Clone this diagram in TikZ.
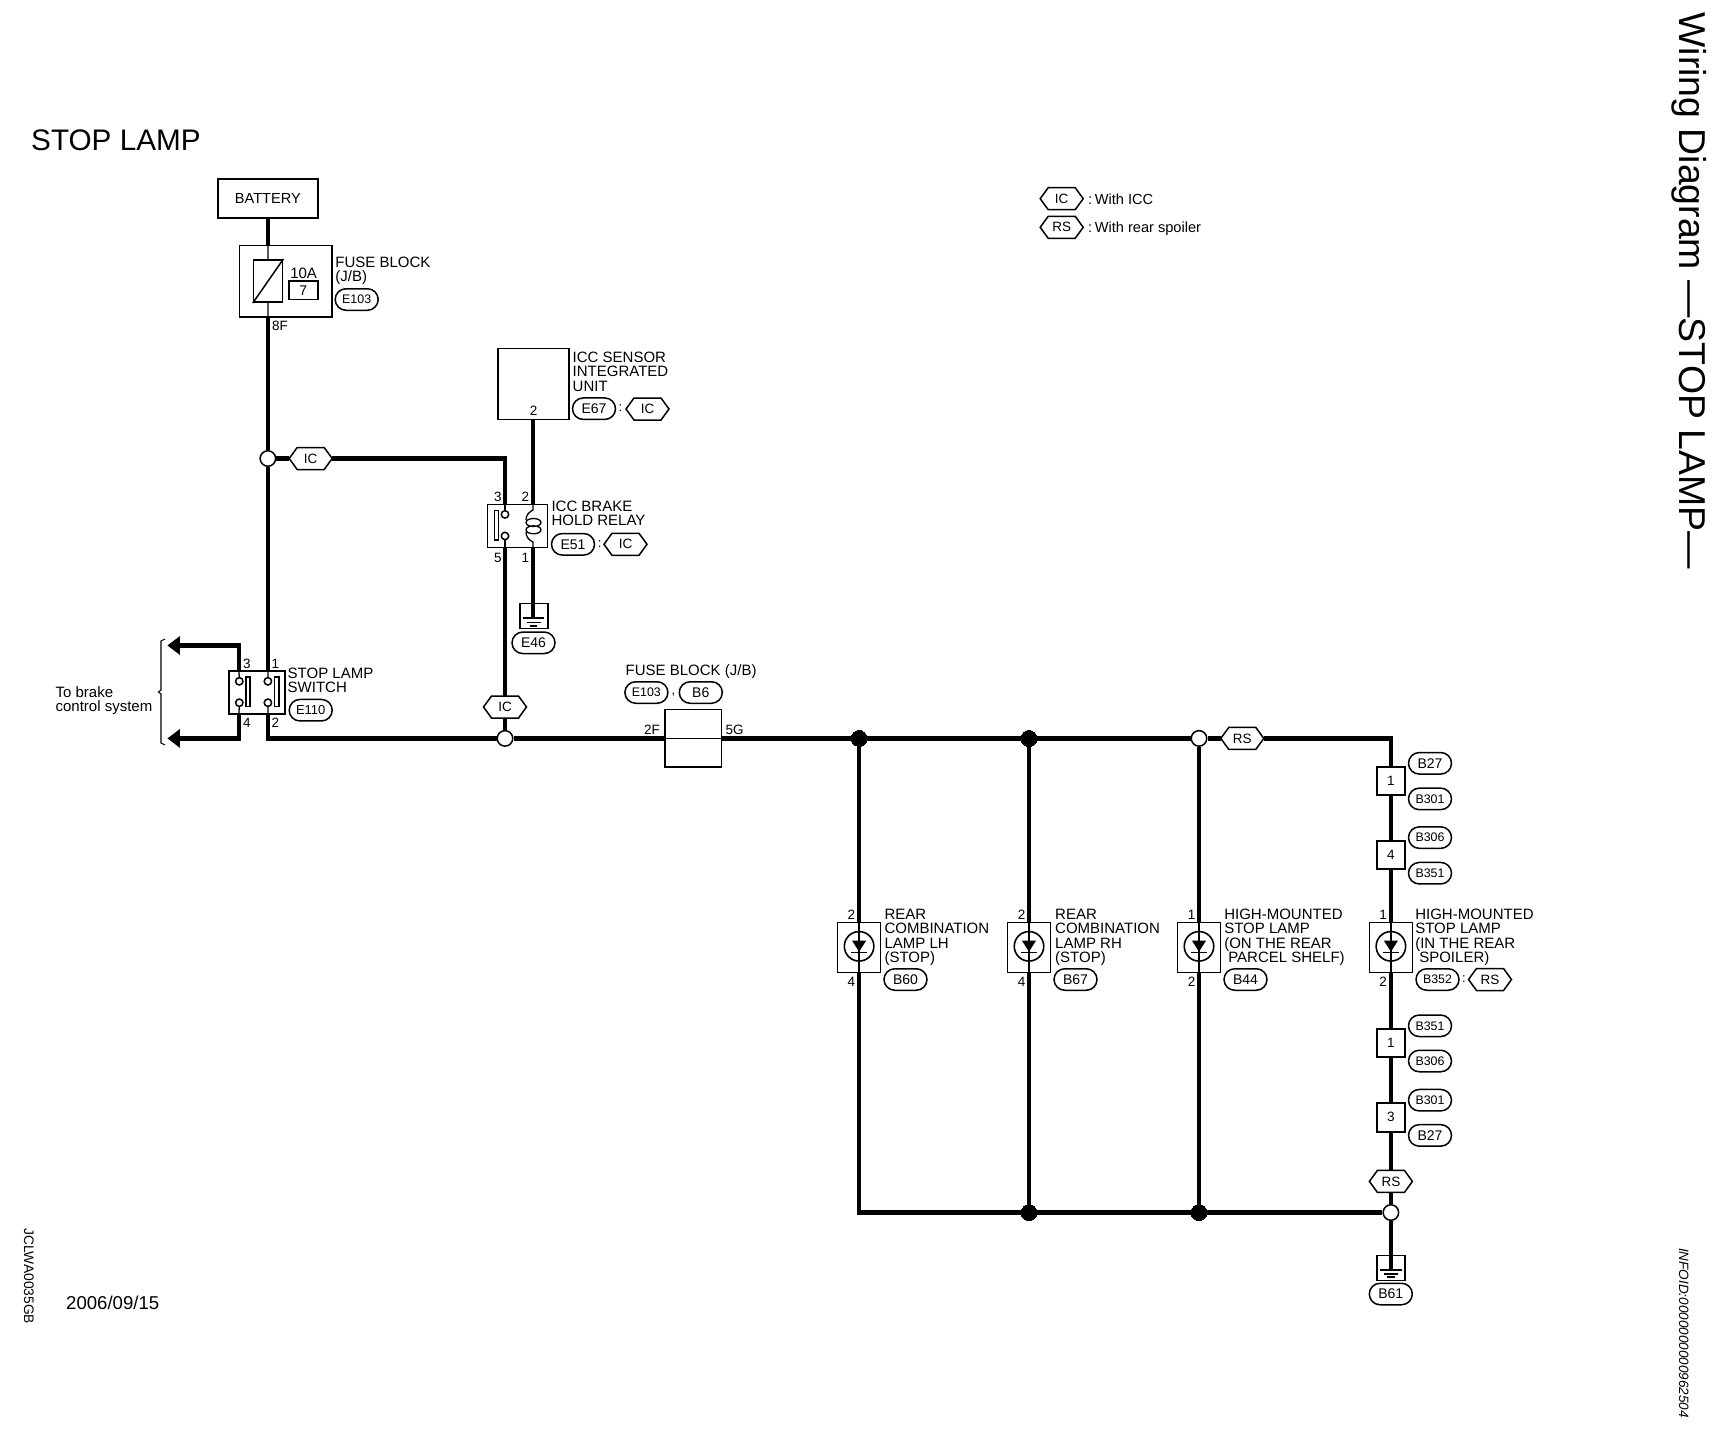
\documentclass[tikz,border=0pt]{standalone}
\usepackage{fontspec}
\setmainfont{Liberation Sans}
\usetikzlibrary{shapes.misc,arrows.meta,backgrounds,calc}
\newcommand{\fsz}[1]{\fontsize{#1}{#1}\selectfont}
\tikzset{
  wire/.style={line width=4.5pt},
  thinw/.style={line width=1.3pt},
  boxn/.style={draw,fill=white,line width=1.6pt,inner sep=0pt,rectangle},
  lbl/.style={inner sep=0pt,anchor=north west,align=left,yshift=0.6pt,font=\fontsize{15}{14.3}\selectfont},
  pin/.style={inner sep=0pt,font=\fsz{13.5}},
  pill/.style={draw,fill=white,rounded rectangle,line width=1.5pt,inner sep=0pt,minimum width=43pt,minimum height=21.5pt,font=\fsz{12.4}},
  pillb/.style={pill,font=\fsz{14}},
  tagh/.style={draw,fill=white,line width=1.5pt,line join=miter},
  tagt/.style={rectangle,inner sep=0pt,minimum width=43pt,minimum height=22pt,font=\fsz{13.5}},
  jopen/.style={draw,fill=white,circle,line width=1.5pt,inner sep=0pt,minimum size=15.5pt},
  jdot/.style={draw,fill=black,circle,line width=0pt,inner sep=0pt,minimum size=16pt},
  cont/.style={draw,fill=white,circle,line width=1.5pt,inner sep=0pt,minimum size=7.4pt},
  bar/.style={draw,fill=white,rectangle,line width=1.5pt,inner sep=0pt,minimum width=4pt,minimum height=29.5pt},
  inl/.style={boxn,line width=2pt,minimum width=28.6pt,minimum height=28.6pt,font=\fsz{13.5}},
  gndbox/.style={draw,rectangle,line width=1.5pt,inner sep=0pt,minimum width=28pt,minimum height=25pt},
  colon/.style={inner sep=0pt,font=\fsz{13}},
}
% hexagonal tag: name, position, text
\newcommand{\tagn}[3]{%
  \path[tagh] ($(#2)+(-21.5,0)$) -- ($(#2)+(-13.5,-11)$) -- ($(#2)+(13.5,-11)$) -- ($(#2)+(21.5,0)$) -- ($(#2)+(13.5,11)$) -- ($(#2)+(-13.5,11)$) -- cycle;
  \node[tagt] (#1) at (#2) {#3};
}
% lamp symbol: name, x
\newcommand{\lampsym}[2]{%
  \node[boxn,line width=1.3pt,minimum width=43pt,minimum height=50.2pt] (#1) at (#2,947.3) {};
  \draw[thinw] (#1.north) -- (#1.south);
  \node[draw,circle,line width=1.6pt,inner sep=0pt,minimum size=29.5pt] (#1c) at (#2,946.3) {};
  \fill ($(#2,940.7)+(-7,0)$) -- ($(#2,940.7)+(7,0)$) -- (#2,951.7) -- cycle;
  \draw[line width=1.3pt] ($(#2,952.6)+(-8,0)$) -- ($(#2,952.6)+(8,0)$);
}
\begin{document}
\begin{tikzpicture}[x=1pt,y=-1pt]
\useasboundingbox (0,0) rectangle (1722,1440);
% headings
\node[inner sep=0,anchor=base west,font=\fsz{29.7}] (title) at (31,150.6) {STOP LAMP};
\node[inner sep=0,anchor=base west,rotate=-90,font=\fsz{37.4}] (side) at (1679.5,12.3) {Wiring Diagram ---STOP LAMP---};
\node[inner sep=0,anchor=base west,rotate=-90,font=\fsz{13.8}] (code) at (24,1228) {JCLWA0035GB};
\node[inner sep=0,anchor=base west,font=\fsz{18.6}] (date) at (66,1309.4) {2006/09/15};
\node[inner sep=0,anchor=base west,rotate=-90,font=\fsz{13.5}\itshape] (info) at (1679,1248) {INFOID:0000000000962504};
% legend
\tagn{legIC}{1061.7,198.7}{IC}
\tagn{legRS}{1061.7,227.3}{RS}
\node[inner sep=0,anchor=base west,font=\fsz{14.6}] (legICt) at (1088,204) {:\hspace{2.5pt}With ICC};
\node[inner sep=0,anchor=base west,font=\fsz{14.6}] (legRSt) at (1088,232.5) {:\hspace{2.5pt}With rear spoiler};
% battery and fuse
\node[boxn,line width=2pt,minimum width=100pt,minimum height=39.3pt,font=\fsz{14.6}] (battery) at (267.9,198.7) {BATTERY};
\node[boxn,minimum width=92.4pt,minimum height=71.5pt] (fuseA) at (285.5,281.3) {};
\coordinate (fAt) at (267.9,245.5);
\coordinate (fAb) at (267.9,317);
\node[boxn,minimum width=29pt,minimum height=42.4pt] (fuseAin) at (268.1,281) {};
\draw[line width=1.5pt] (fuseAin.south west) -- (fuseAin.north east);
\draw[thinw] (fAt) -- (fuseAin.north) (fuseAin.south) -- (fAb);
\node[pin,font=\fsz{15}] (tenA) at (303.6,273) {10A};
\node[boxn,minimum width=29pt,minimum height=18.3pt,font=\fsz{14}] (seven) at (303.3,290.4) {7};
\node[lbl] (fuseAl) at (335.2,257) {FUSE BLOCK\\(J/B)};
\node[pill] (e103a) at (356.7,299.5) {E103};
\node[pin] (p8F) at (280,326) {8F};
% ICC sensor
\node[boxn,minimum width=71.4pt,minimum height=70.9pt] (icc) at (533.5,384.1) {};
\node[pin] (pIcc2) at (533.5,411) {2};
\node[lbl] (iccl) at (572.5,352.4) {ICC SENSOR\\INTEGRATED\\UNIT};
\node[pillb] (e67) at (594,408.7) {E67};
\node[colon] (cE67) at (620.5,408) {:};
\tagn{tE67}{647.5,409}{IC}
% relay
\node[boxn,minimum width=59.8pt,minimum height=42.8pt] (relay) at (517.4,525.9) {};
\coordinate (r3) at (505,504.5);
\coordinate (r5) at (505,547.3);
\coordinate (r2) at (533,504.5);
\coordinate (r1) at (533,547.3);
\node[cont] (rc1) at (505,514.4) {};
\node[cont] (rc2) at (505,536) {};
\node[bar] (rbar) at (496.4,525.3) {};
\draw[thinw] (r3) -- (rc1.north) (rc2.south) -- (r5);
\draw[thinw] (r2) -- (533,510) .. controls (529,512) and (526,515) .. (526,520);
\draw[thinw] (533.5,522.5) ellipse (7.5 and 4) (533.5,529.8) ellipse (7.5 and 4);
\draw[thinw] (526,532) .. controls (526,537) and (529,540) .. (533,542) -- (r1);
\node[pin] (pr3) at (497.8,496.4) {3};
\node[pin] (pr2) at (525.4,496.4) {2};
\node[pin] (pr5) at (497.8,557.6) {5};
\node[pin] (pr1) at (525.4,557.6) {1};
\node[lbl] (relayl) at (551.3,501.5) {ICC BRAKE\\HOLD RELAY};
\node[pillb] (e51) at (573,544.3) {E51};
\node[colon] (cE51) at (599.6,544) {:};
\tagn{tE51}{625.5,544.3}{IC}
% ground E46
\node[gndbox] (gA) at (533.9,616.1) {};
\coordinate (gAw) at (533,618);
\draw[line width=1.5pt] (523,618) -- (544,618) (526.5,622.3) -- (540.5,622.3) (530,626) -- (537,626);
\node[pillb] (e46) at (533.5,642.8) {E46};
% stop lamp switch
\node[boxn,line width=2pt,minimum width=56.3pt,minimum height=43.8pt] (sw) at (257.2,692.4) {};
\coordinate (s3) at (238.8,670.5);
\coordinate (s4) at (238.8,714.3);
\coordinate (s1) at (267.9,670.5);
\coordinate (s2) at (267.9,714.3);
\node[cont] (sc3) at (239.3,681.3) {};
\node[cont] (sc4) at (239.3,702.7) {};
\node[cont] (sc1) at (267.9,681.3) {};
\node[cont] (sc2) at (267.9,702.7) {};
\node[bar] (sbarL) at (248.2,691.6) {};
\node[bar,minimum width=4.5pt] (sbarR) at (276.8,691.6) {};
\draw[thinw] (s3) -- (sc3.north) (sc4.south) -- (s4) (s1) -- (sc1.north) (sc2.south) -- (s2);
\node[pin] (ps3) at (246.9,663.4) {3};
\node[pin] (ps1) at (275.4,663.4) {1};
\node[pin] (ps4) at (246.9,723.2) {4};
\node[pin] (ps2) at (275.4,723.2) {2};
\node[lbl] (swl) at (287.5,668.5) {STOP LAMP\\SWITCH};
\node[pill,font=\fsz{13}] (e110) at (310.7,710.2) {E110};
\node[lbl] (brakel) at (55.4,687) {To brake\\control system};
\draw[line width=1.1pt] (165,639) -- (161,641) -- (161,690) -- (158.5,692) -- (161,694) -- (161,743) -- (165,745);
\coordinate (upT) at (167.4,645.5);
\coordinate (upC) at (238.8,645.5);
\coordinate (loT) at (167.4,738.4);
\coordinate (loC) at (238.8,738.4);
% junctions and tags
\node[jopen] (jA) at (267.9,458.5) {};
\tagn{tA}{310.7,458.5}{IC}
\coordinate (cA) at (505,458.5);
\tagn{tB}{505,707}{IC}
\node[jopen] (jB) at (505,738.4) {};
\coordinate (cSw) at (267.9,738.4);
% fuse block 2
\node[boxn,line width=1.4pt,minimum width=56.6pt,minimum height=57.4pt] (fuseB) at (693.1,738.4) {};
\draw[line width=1pt] (fuseB.west) -- (fuseB.east);
\node[lbl] (fuseBl) at (625.5,664.7) {FUSE BLOCK (J/B)};
\node[pill] (e103b) at (646.4,692.5) {E103};
\node[colon] (cfb) at (673.5,695) {,};
\node[pillb] (b6) at (700.8,692.5) {B6};
\node[pin] (p2F) at (652,730) {2F};
\node[pin] (p5G) at (734.7,730) {5G};
% bus
\node[jdot] (dA) at (859.1,738.4) {};
\node[jdot] (dB) at (1029,738.4) {};
\node[jopen] (jC) at (1199,738.4) {};
\tagn{tC}{1242.3,738.4}{RS}
\coordinate (cTR) at (1390.9,738.4);
% lamps
\lampsym{lA}{859.1}
\lampsym{lB}{1029}
\lampsym{lC}{1199}
\lampsym{lD}{1390.9}
\node[pin] (lA1) at (851.4,914.7) {2};
\node[pin] (lA2) at (851.4,981.5) {4};
\node[pin] (lB1) at (1021.5,914.7) {2};
\node[pin] (lB2) at (1021.5,981.5) {4};
\node[pin] (lC1) at (1191.5,914.7) {1};
\node[pin] (lC2) at (1191.5,981.5) {2};
\node[pin] (lD1) at (1383,914.7) {1};
\node[pin] (lD2) at (1383,981.5) {2};
\node[lbl] (lAl) at (884.3,909.5) {REAR\\COMBINATION\\LAMP LH\\(STOP)};
\node[lbl] (lBl) at (1055,909.5) {REAR\\COMBINATION\\LAMP RH\\(STOP)};
\node[lbl] (lCl) at (1224.1,909.5) {HIGH-MOUNTED\\STOP LAMP\\(ON THE REAR\\\hspace*{4pt}PARCEL SHELF)};
\node[lbl] (lDl) at (1415.1,909.5) {HIGH-MOUNTED\\STOP LAMP\\(IN THE REAR\\\hspace*{4pt}SPOILER)};
\node[pillb] (b60) at (905.5,979.5) {B60};
\node[pillb] (b67) at (1075.5,979.5) {B67};
\node[pillb] (b44) at (1245.5,979.5) {B44};
\node[pill] (b352) at (1437.5,979.5) {B352};
\node[colon] (cb352) at (1464,979) {:};
\tagn{tb352}{1490,979.5}{RS}
% inline connectors
\node[inl] (cn1) at (1390.9,780.8) {1};
\node[inl] (cn4) at (1390.9,855) {4};
\node[inl] (cn5) at (1390.9,1042.8) {1};
\node[inl] (cn3) at (1390.9,1117.2) {3};
\node[pillb] (p1) at (1430,763.3) {B27};
\node[pill] (p2) at (1430,798.9) {B301};
\node[pill] (p3) at (1430,837.6) {B306};
\node[pill] (p4) at (1430,873.2) {B351};
\node[pill] (p5) at (1430,1025.8) {B351};
\node[pill] (p6) at (1430,1061) {B306};
\node[pill] (p7) at (1430,1100.2) {B301};
\node[pillb] (p8) at (1430,1135.4) {B27};
\tagn{tD}{1390.9,1181.4}{RS}
\node[jopen] (jD) at (1390.9,1212.5) {};
\node[jdot] (dC) at (1029,1212.5) {};
\node[jdot] (dD) at (1199,1212.5) {};
\coordinate (cBL) at (859.1,1212.5);
\node[gndbox] (gB) at (1391,1267.8) {};
\coordinate (gBw) at (1390.9,1270);
\draw[line width=1.5pt] (1380,1270) -- (1402,1270) (1384,1274) -- (1398,1274) (1387,1277) -- (1395,1277);
\node[pillb] (b61) at (1390.8,1294) {B61};
% wires, under the nodes
\begin{pgfonlayer}{background}
\fill[white] (0,0) rectangle (1722,1440);
\draw[wire] (battery.south) -- (fAt);
\draw[wire] (fAb) -- (jA);
\draw[wire] (jA) -- (s1);
\draw[wire] (jA) -- (tA);
\draw[wire] (tA) -- (cA) -- (r3);
\draw[wire] (icc.south -| r2) -- (r2);
\draw[wire] (r1) -- (gAw);
\draw[wire] (r5) -- (tB);
\draw[wire] (tB) -- (jB);
\draw[wire] (s2) -- (cSw) -- (jB);
\draw[wire] (jB) -- (fuseB.west);
\draw[wire] (fuseB.east) -- (dA);
\draw[wire] (dA) -- (dB);
\draw[wire] (dB) -- (jC);
\draw[wire] (jC) -- (tC);
\draw[wire] (tC) -- (cTR) -- (cn1.north);
\draw[wire] (cn1.south) -- (cn4.north);
\draw[wire] (cn4.south) -- (lD.north);
\draw[wire] (lD.south) -- (cn5.north);
\draw[wire] (cn5.south) -- (cn3.north);
\draw[wire] (cn3.south) -- (tD);
\draw[wire] (tD) -- (jD);
\draw[wire] (jD) -- (gBw);
\draw[wire] (dA) -- (lA.north);
\draw[wire] (dB) -- (lB.north);
\draw[wire] (jC) -- (lC.north);
\draw[wire] (lA.south) -- (cBL) -- (dC);
\draw[wire] (lB.south) -- (dC);
\draw[wire] (lC.south) -- (dD);
\draw[wire] (dC) -- (dD);
\draw[wire] (dD) -- (jD);
\draw[wire,-{Triangle[length=12.5pt,width=18pt]}] (s3) -- (upC) -- (upT);
\draw[wire,-{Triangle[length=12.5pt,width=18pt]}] (s4) -- (loC) -- (loT);
\end{pgfonlayer}
\end{tikzpicture}
\end{document}
